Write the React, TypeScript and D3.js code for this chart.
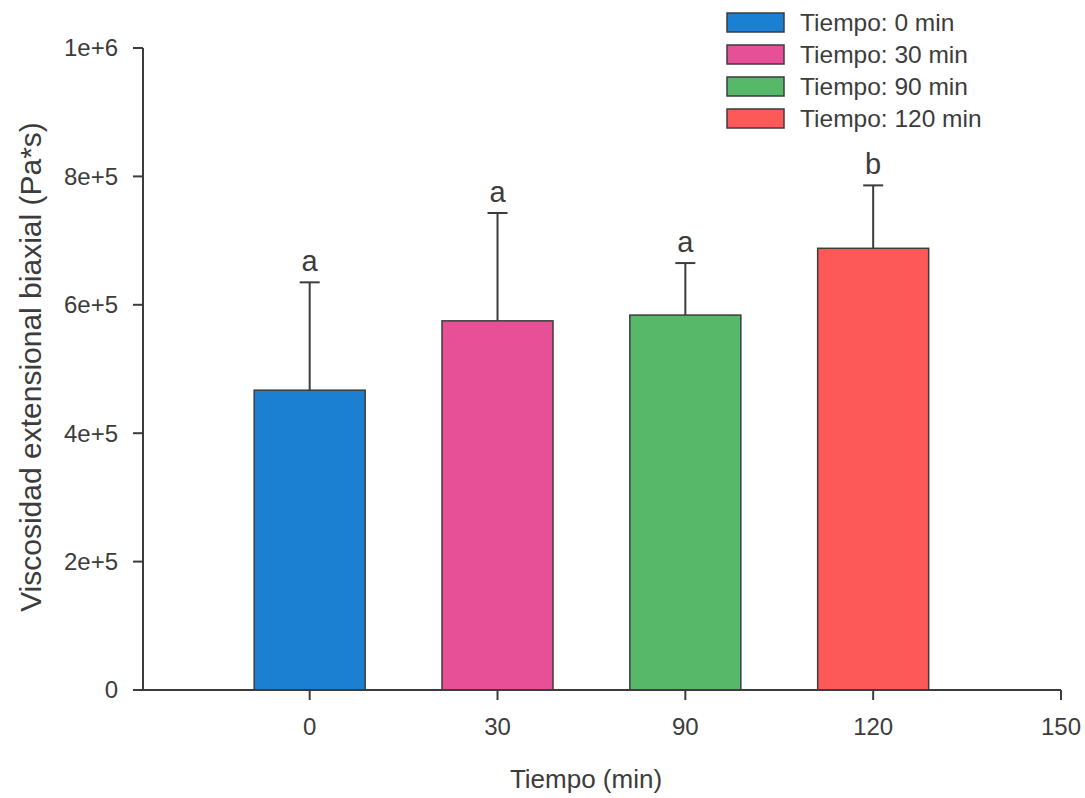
import React, { useEffect } from 'react'
import * as d3 from 'd3'

const categories = ['0', '30', '90', '120']
const axisTicks = ['0', '30', '90', '120', '150']
const means = [467000, 575000, 584000, 688000]
const errors = [168000, 168000, 81000, 98000]
const letters = ['a', 'a', 'a', 'b']
const colors = ['#1b80d2', '#e74f97', '#58b869', '#fd5959']
const legendLabels = ['Tiempo: 0 min', 'Tiempo: 30 min', 'Tiempo: 90 min', 'Tiempo: 120 min']
const yTicks = [0, 200000, 400000, 600000, 800000, 1000000]
const yTickLabels = ['0', '2e+5', '4e+5', '6e+5', '8e+5', '1e+6']

const width = 1085
const height = 798
const font = 'Liberation Sans, Arial, sans-serif'
const ink = '#3c3c3c'

const App: React.FC = () => {
    useEffect(() => {
        document.body.style.margin = '0'
    }, [])

    // x positions are by index; axis runs a bit past the last tick on the left
    const x = d3.scaleLinear().domain([-0.93, 4]).range([135, 1061])
    const y = d3.scaleLinear().domain([0, 1e6]).range([690, 48])
    const barWidth = 111
    const capHalf = 10

    const legend = d3.scaleBand<number>().domain(d3.range(4)).range([13, 128]).paddingInner(0.406)

    return (
        <svg width={width} height={height} style={{ display: 'block', background: 'white' }}>
            {/* bars */}
            {categories.map((c, i) => (
                <g key={c}>
                    <line x1={x(i)} x2={x(i)} y1={y(means[i])} y2={y(means[i] + errors[i])}
                        stroke={ink} strokeWidth={2} />
                    <line x1={x(i) - capHalf} x2={x(i) + capHalf}
                        y1={y(means[i] + errors[i])} y2={y(means[i] + errors[i])}
                        stroke={ink} strokeWidth={2} />
                    <rect x={x(i) - barWidth / 2} y={y(means[i])} width={barWidth}
                        height={y(0) - y(means[i])} fill={colors[i]} stroke={ink} strokeWidth={1.5} />
                    <text x={x(i)} y={y(means[i] + errors[i]) - 11} textAnchor="middle"
                        fontFamily={font} fontSize={29} fill={ink}>{letters[i]}</text>
                </g>
            ))}

            {/* y axis */}
            <line x1={143} x2={143} y1={y(1e6)} y2={y(0)} stroke={ink} strokeWidth={2} />
            {yTicks.map((t, i) => (
                <g key={t}>
                    <line x1={133} x2={143} y1={y(t)} y2={y(t)} stroke={ink} strokeWidth={2} />
                    <text x={118} y={y(t)} dy="0.35em" textAnchor="end" fontFamily={font}
                        fontSize={24} fill={ink}>{yTickLabels[i]}</text>
                </g>
            ))}
            <text transform={`translate(41,${367}) rotate(-90)`} textAnchor="middle"
                fontFamily={font} fontSize={30} fill={ink}>Viscosidad extensional biaxial (Pa*s)</text>

            {/* x axis */}
            <line x1={x(-0.93)} x2={x(4)} y1={y(0)} y2={y(0)} stroke={ink} strokeWidth={2} />
            {axisTicks.map((t, i) => (
                <g key={t}>
                    <line x1={x(i)} x2={x(i)} y1={y(0)} y2={y(0) + 10} stroke={ink} strokeWidth={2} />
                    <text x={x(i)} y={727} dy="0.35em" textAnchor="middle" fontFamily={font}
                        fontSize={24} fill={ink}>{t}</text>
                </g>
            ))}
            <text x={586} y={788} textAnchor="middle" fontFamily={font} fontSize={26}
                fill={ink}>Tiempo (min)</text>

            {/* legend */}
            {legendLabels.map((l, i) => (
                <g key={l}>
                    <rect x={727} y={legend(i)} width={57} height={legend.bandwidth()}
                        fill={colors[i]} stroke={ink} strokeWidth={1.5} />
                    <text x={800} y={(legend(i) as number) + legend.bandwidth() / 2} dy="0.33em"
                        fontFamily={font} fontSize={24.5} fill={ink}>{l}</text>
                </g>
            ))}
        </svg>
    )
}

export default App
